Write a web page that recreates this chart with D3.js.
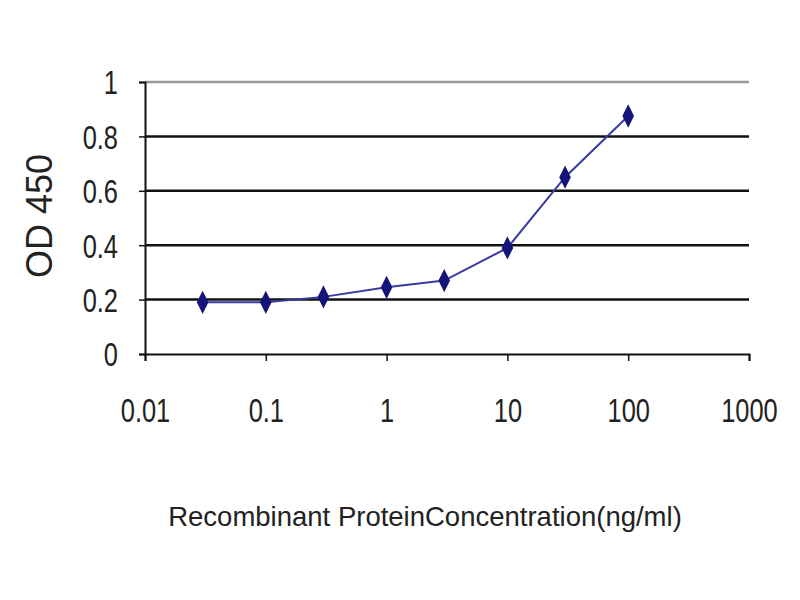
<!DOCTYPE html>
<html><head><meta charset="utf-8">
<script src="https://cdn.jsdelivr.net/npm/d3@7"></script>
<style>body{margin:0;background:#fff}</style>
</head><body>
<svg id="c" width="800" height="600"></svg>
<script>
const concentrations = [0.03, 0.1, 0.3, 1, 3, 10, 30, 100];
const odValues = [0.19, 0.19, 0.21, 0.245, 0.27, 0.39, 0.65, 0.875];
const xTicks = [0.01, 0.1, 1, 10, 100, 1000];
const xTickLabels = ["0.01", "0.1", "1", "10", "100", "1000"];
const yTicks = [0, 0.2, 0.4, 0.6, 0.8, 1];
const yTickLabels = ["0", "0.2", "0.4", "0.6", "0.8", "1"];

const svg = d3.select("#c");
const L = 145, R = 749, T = 82, B = 354;
const x = d3.scaleLog().domain([0.01, 1000]).range([L, R]);
const y = d3.scaleLinear().domain([0, 1]).range([B, T]);
const font = "'Liberation Sans',Arial,sans-serif";

// gridlines
svg.append("g").selectAll("line").data(yTicks.filter(d => d > 0 && d < 1)).join("line")
  .attr("x1", L).attr("x2", R).attr("y1", d => y(d)).attr("y2", d => y(d))
  .attr("stroke", "#111").attr("stroke-width", 2.5);
// top border
svg.append("line").attr("x1", L).attr("x2", R).attr("y1", y(1)).attr("y2", y(1))
  .attr("stroke", "#999").attr("stroke-width", 2.5);

// y axis
const yAxis = d3.axisLeft(y).tickValues(yTicks).tickSize(6)
  .tickFormat((d, i) => yTickLabels[i]);
const gy = svg.append("g").attr("transform", `translate(${L},0)`).call(yAxis);
gy.select(".domain").attr("stroke", "#111").attr("stroke-width", 2);
gy.selectAll(".tick line").attr("stroke", "#111").attr("stroke-width", 1.5);
gy.selectAll(".tick text").attr("x", 0).attr("dy", "0.36em")
  .attr("transform", "translate(-27,0) scale(0.77,1)")
  .style("font-family", font).style("font-size", "33px").attr("fill", "#222");

// x axis
const xAxis = d3.axisBottom(x).tickValues(xTicks).tickSize(7)
  .tickFormat((d, i) => xTickLabels[i]);
const gx = svg.append("g").attr("transform", `translate(0,${B})`).call(xAxis);
gx.select(".domain").attr("stroke", "#111").attr("stroke-width", 2);
gx.selectAll(".tick line").attr("stroke", "#111").attr("stroke-width", 1.5);
gx.selectAll(".tick text").attr("y", 0).attr("dy", "0.36em")
  .attr("transform", "translate(0,56) scale(0.77,1)")
  .style("font-family", font).style("font-size", "33px").attr("fill", "#222");

// line
const line = d3.line().x((d, i) => x(concentrations[i])).y(d => y(d));
svg.append("path").datum(odValues).attr("d", line)
  .attr("fill", "none").attr("stroke", "#3a3aa6").attr("stroke-width", 2);

// markers
const sym = d3.symbol().type(d3.symbolDiamond).size(95);
svg.append("g").selectAll("path").data(odValues).join("path")
  .attr("d", sym)
  .attr("transform", (d, i) => `translate(${x(concentrations[i])},${y(d)}) scale(0.95,1.1)`)
  .attr("fill", "#14147a").attr("stroke", "#14147a").attr("stroke-width", 1.5);

// titles
svg.append("text").attr("transform", "translate(52,216) rotate(-90)")
  .attr("text-anchor", "middle").style("font-family", font).style("font-size", "36px")
  .attr("fill", "#222").text("OD 450");
svg.append("text").attr("x", 425).attr("y", 526).attr("text-anchor", "middle")
  .style("font-family", font).style("font-size", "27.5px").attr("fill", "#222")
  .text("Recombinant ProteinConcentration(ng/ml)");
</script>
</body></html>
